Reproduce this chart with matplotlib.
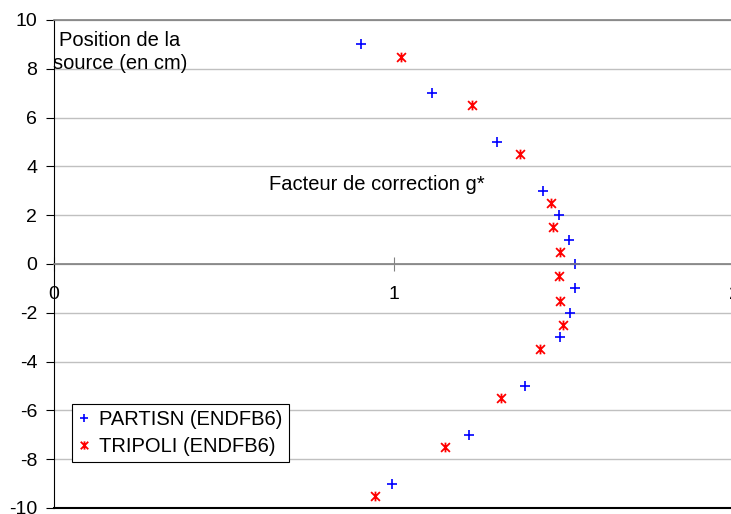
import numpy as np
from matplotlib import pyplot as plt
from matplotlib.path import Path

plt.rcParams['font.family'] = ['Liberation Sans', 'DejaVu Sans']
plt.rcParams['axes.unicode_minus'] = False

# Data
partisn_pos = [9, 7, 5, 3, 2, 1, 0, -1, -2, -3, -5, -7, -9]
partisn_g = [0.903, 1.112, 1.303, 1.438, 1.484, 1.514, 1.533,
             1.531, 1.517, 1.488, 1.384, 1.222, 0.995]

tripoli_pos = [8.5, 6.5, 4.5, 2.5, 1.5, 0.5, -0.5, -1.5, -2.5, -3.5, -5.5, -7.5, -9.5]
tripoli_g = [1.021, 1.230, 1.370, 1.463, 1.468, 1.489, 1.486,
             1.488, 1.496, 1.430, 1.314, 1.150, 0.944]

x_ticks = [0, 1, 2]
y_ticks = np.arange(-10, 11, 2)

# Excel-like star marker (x with a vertical bar)
star = Path([(-1, -1), (1, 1), (-1, 1), (1, -1), (0, -1.1), (0, 1.1)],
            [Path.MOVETO, Path.LINETO, Path.MOVETO, Path.LINETO, Path.MOVETO, Path.LINETO])

fig = plt.figure(figsize=(7.31, 5.14), dpi=100)
W, H = 731, 514
ax = fig.add_axes([54 / W, 6 / H, (734 - 54) / W, 488 / H])

ax.plot(partisn_g, partisn_pos, ls='none', marker='+', color='blue',
        markersize=7, mew=1.2, label='PARTISN (ENDFB6)', clip_on=False)
ax.plot(tripoli_g, tripoli_pos, ls='none', marker=star, color='red',
        markerfacecolor='none', markersize=7, mew=1.3,
        label='TRIPOLI (ENDFB6)', clip_on=False)

ax.set_xlim(0, 2)
ax.set_ylim(-10, 10)
ax.set_xticks(x_ticks)
ax.set_yticks(y_ticks)

# grid
ax.yaxis.grid(True, color='#c0c0c0', linewidth=1)
ax.set_axisbelow(True)

# spines
ax.spines['bottom'].set_position(('data', 0))
ax.spines['bottom'].set_color('#808080')
ax.spines['bottom'].set_linewidth(1.2)
ax.spines['top'].set_color('#808080')
ax.spines['top'].set_linewidth(1.2)
ax.spines['right'].set_visible(False)
ax.spines['left'].set_color('black')
ax.axhline(-10, color='black', linewidth=1.5, clip_on=False)

ax.tick_params(axis='x', direction='inout', length=10, color='#808080',
               pad=11, labelsize=14)
ax.tick_params(axis='y', direction='out', length=6, pad=6, labelsize=14)

ax.text(120 / W, 1 - 52 / H, 'Position de la\nsource (en cm)', transform=fig.transFigure,
        ha='center', va='center', fontsize=14.5, linespacing=1.3)
ax.text(377 / W, 1 - 185 / H, 'Facteur de correction g*', transform=fig.transFigure,
        ha='center', va='center', fontsize=14.5)

ax.legend(loc='lower left', bbox_to_anchor=(72 / W, 52 / H), bbox_transform=fig.transFigure,
          borderaxespad=0, fancybox=False, edgecolor='black', framealpha=1,
          handlelength=0.6, handletextpad=0.45, borderpad=0.3, labelspacing=0.4,
          fontsize=14.5, markerscale=0.85)
ax.get_legend().get_frame().set_linewidth(0.8)

fig.savefig('out.png', dpi=100)
